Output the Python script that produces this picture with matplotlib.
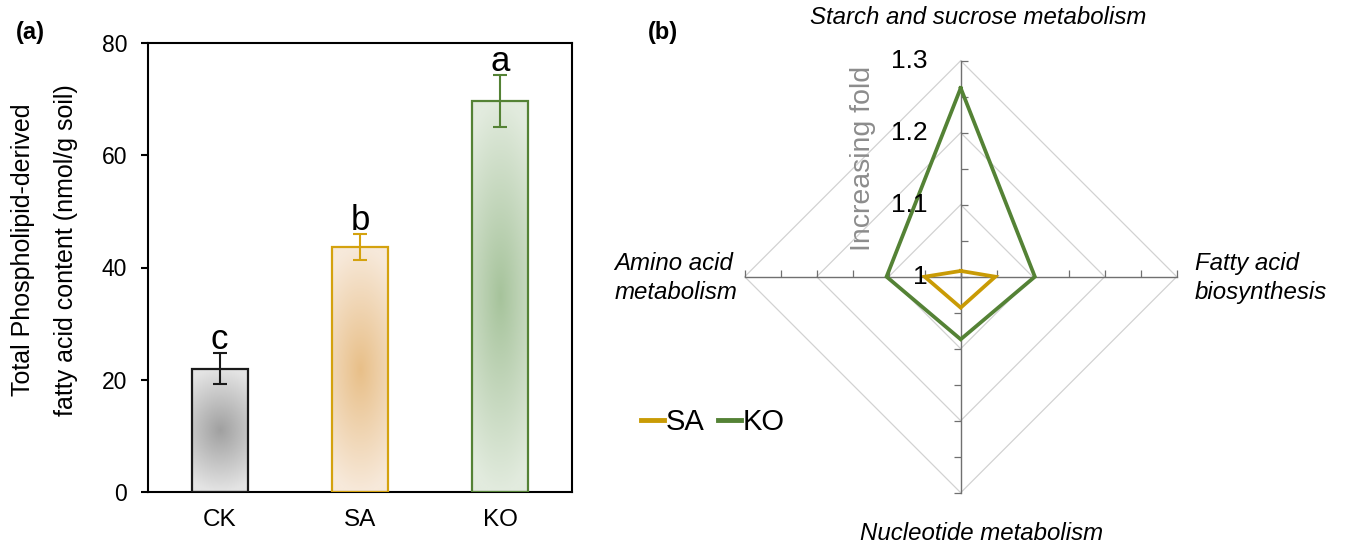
import numpy as np
import matplotlib
matplotlib.use("Agg")
import matplotlib.pyplot as plt
from matplotlib.transforms import ScaledTranslation
from matplotlib.colors import to_rgb
from matplotlib.lines import Line2D

plt.rcParams['font.family'] = ['Liberation Sans', 'DejaVu Sans']

# ---------------- data: panel (a) ----------------
groups = ['CK', 'SA', 'KO']
plfa_mean = [22.0, 43.6, 69.7]
plfa_err = [2.7, 2.3, 4.6]
sig_letters = ['c', 'b', 'a']
y_ticks = [0, 20, 40, 60, 80]

# ---------------- data: panel (b) ----------------
pathways = ['Starch and sucrose metabolism', 'Fatty acid\nbiosynthesis',
            'Nucleotide metabolism', 'Amino acid\nmetabolism']
sa_fold = [1.008, 1.048, 1.043, 1.050]
ko_fold = [1.262, 1.103, 1.087, 1.103]
r_ticks = [1.0, 1.1, 1.2, 1.3]
r_tick_labels = ['1', '1.1', '1.2', '1.3']
r_minor = [1.0, 1.05, 1.1, 1.15, 1.2, 1.25, 1.3]

# ---------------- styles ----------------
bar_edge = ['#1a1a1a', '#D4A20E', '#548235']
grad_center = ['#a0a0a0', '#e8bf88', '#a6c39b']
grad_edge = ['#e4e4e4', '#f7e9da', '#e2ebde']
SA_COL = '#C99B05'
KO_COL = '#548235'
W, H = 1346, 546

fig = plt.figure(figsize=(W / 100, H / 100), dpi=100)

# ================= panel (a) =================
ax1 = fig.add_axes([148 / W, 54 / H, 424 / W, 449 / H])
x = np.arange(len(groups))
bars = ax1.bar(x, plfa_mean, width=0.4, facecolor='none',
               edgecolor=bar_edge, linewidth=1.6, zorder=3)
for i, b in enumerate(bars):
    x0, w, h = b.get_x(), b.get_width(), b.get_height()
    yy, xx = np.mgrid[-1:1:300j, -1:1:80j]
    t = np.clip(np.sqrt((0.55 * xx) ** 2 + yy ** 2), 0, 1)[..., None]
    c0 = np.array(to_rgb(grad_center[i]))
    c1 = np.array(to_rgb(grad_edge[i]))
    img = c0 * (1 - t) + c1 * t
    im = ax1.imshow(img, extent=[x0, x0 + w, 0, h], origin='lower',
                    aspect='auto', zorder=2, interpolation='bilinear')
    im.set_clip_path(b)
    ax1.errorbar(x[i], plfa_mean[i], yerr=plfa_err[i], fmt='none',
                 ecolor=bar_edge[i], elinewidth=1.5, capsize=5,
                 capthick=1.5, zorder=4)
    ax1.annotate(sig_letters[i], (x[i], plfa_mean[i] + plfa_err[i]),
                 xytext=(0, 3), textcoords='offset points',
                 ha='center', va='baseline', fontsize=25)

ax1.set_xlim(-0.51, 2.51)
ax1.set_ylim(0, 80)
ax1.set_yticks(y_ticks)
ax1.set_xticks(x)
ax1.set_xticklabels(groups)
ax1.tick_params(axis='y', length=5, width=1.5, pad=10, labelsize=16.5)
ax1.tick_params(axis='x', length=0, pad=12, labelsize=17.5)
for s in ax1.spines.values():
    s.set_linewidth(1.5)
fig.text(45 / W, 1 - 250 / H,
         'Total Phospholipid-derived\nfatty acid content (nmol/g soil)',
         rotation=90, ha='center', va='center', fontsize=18, linespacing=2.0)
fig.text(16 / W, 1 - 33 / H, '(a)', fontsize=17, fontweight='bold',
         ha='left', va='center')

# ================= panel (b) =================
R = 216
cx, cy = 960.7, 276.7
ax2 = fig.add_axes([(cx - R) / W, (H - cy - R) / H, 2 * R / W, 2 * R / H],
                   projection='polar')
ax2.set_theta_zero_location('N')
ax2.set_theta_direction(-1)
ax2.set_rlim(1.0, 1.3)
ax2.grid(False)
ax2.set_xticks([])
ax2.set_yticks([])
ax2.spines['polar'].set_visible(False)
ax2.patch.set_visible(False)

theta = np.deg2rad([0, 90, 180, 270])
closed = np.append(theta, theta[0])
for r in r_ticks[1:]:
    ax2.plot(closed, [r] * 5, color='#d2d2d2', lw=0.9, zorder=1, clip_on=False)
tick_markers = [1, 2, 0, 2]  # right, up, left, up
for th, mk in zip(theta, tick_markers):
    ax2.plot([th, th], [r_ticks[0], r_ticks[-1]], color='#707070', lw=1.0,
             zorder=2, clip_on=False)
    ax2.plot([th] * len(r_minor), r_minor, linestyle='none', marker=mk,
             markersize=5, markeredgewidth=0.9, color='#707070', zorder=2,
             clip_on=False)

ax2.plot(closed, np.append(sa_fold, sa_fold[0]), color=SA_COL, lw=2.7,
         solid_joinstyle='miter', zorder=4, clip_on=False)
ax2.plot(closed, np.append(ko_fold, ko_fold[0]), color=KO_COL, lw=2.7,
         solid_joinstyle='miter', zorder=5, clip_on=False)

off = ScaledTranslation(-0.33, 0, fig.dpi_scale_trans)
for r, lab in zip(r_ticks, r_tick_labels):
    ax2.text(0, r, lab, transform=ax2.transData + off, ha='right',
             va='center', fontsize=19, zorder=6)

fig.text(863 / W, 1 - 158 / H, 'Increasing fold', rotation=90,
         color='#8c8c8c', fontsize=20.5, ha='center', va='center')

lab_kw = dict(fontsize=17.3, style='italic', linespacing=1.28)
fig.text(978 / W, 1 - 18 / H, pathways[0], ha='center', va='center', **lab_kw)
fig.text(1195 / W, 1 - 278 / H, pathways[1], ha='left', va='center', **lab_kw)
fig.text(982 / W, 1 - 533 / H, pathways[2], ha='center', va='center', **lab_kw)
fig.text(737 / W, 1 - 278 / H, pathways[3], ha='right', va='center',
         multialignment='left', **lab_kw)

handles = [Line2D([], [], color=SA_COL, lw=3.5),
           Line2D([], [], color=KO_COL, lw=3.5)]
fig.legend(handles, ['SA', 'KO'], loc='center left',
           bbox_to_anchor=(641 / W, 1 - 422 / H), ncol=2, frameon=False,
           fontsize=21, handlelength=0.8, handletextpad=0.05,
           columnspacing=0.45, borderpad=0, borderaxespad=0)

fig.text(648 / W, 1 - 33 / H, '(b)', fontsize=17, fontweight='bold',
         ha='left', va='center')

fig.savefig('out.png', dpi=100)
